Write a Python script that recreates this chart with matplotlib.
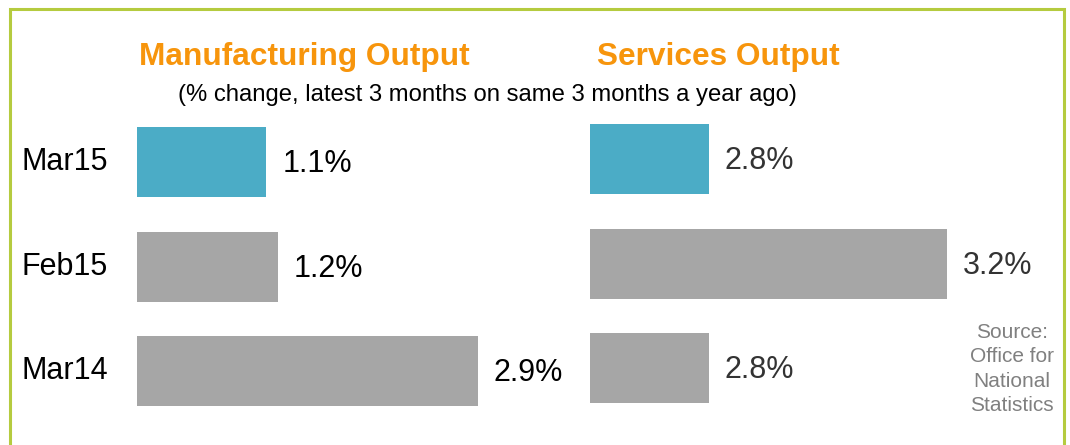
import matplotlib.pyplot as plt
from matplotlib.patches import Rectangle
from matplotlib.transforms import blended_transform_factory

# data
months = ["Mar15", "Feb15", "Mar14"]
manufacturing = [1.1, 1.2, 2.9]
services = [2.8, 3.2, 2.8]
bar_colors = ["#4bacc6", "#a6a6a6", "#a6a6a6"]

plt.rcParams['font.family'] = ['Liberation Sans', 'DejaVu Sans']

W, H = 1070, 445
fig = plt.figure(figsize=(W / 100, H / 100), dpi=100)


def px_axes(left, top, width, height):
    # axes placed with pixel coords measured from the top-left corner
    return fig.add_axes([left / W, 1 - (top + height) / H, width / W, height / H])


ax1 = px_axes(137, 109.6, 423, 314)
ax2 = px_axes(590, 106.6, 416.5, 314)

for ax, vals, lo, hi, col in [(ax1, manufacturing, 0, 3.6, 'black'),
                              (ax2, services, 2.6, 3.3, '#333333')]:
    ax.barh(range(len(vals)), vals, height=0.67, color=bar_colors)
    ax.set_xlim(lo, hi)
    ax.set_ylim(2.5, -0.5)
    ax.axis('off')
    for i, v in enumerate(vals):
        ax.annotate(f"{v}%", (v, i), xytext=(11.5, -1.5), textcoords='offset points',
                    va='center', ha='left', fontsize=22, color=col,
                    annotation_clip=False)

tr = blended_transform_factory(fig.transFigure, ax1.transData)
for i, m in enumerate(months):
    ax1.text(22 / W, i, m, transform=tr, va='center', ha='left', fontsize=22)

orange = '#f7950c'
fig.text(304 / W, 1 - 64.5 / H, "Manufacturing Output", ha='center', va='baseline',
         fontsize=22.8, weight='bold', color=orange)
fig.text(718 / W, 1 - 65 / H, "Services Output", ha='center', va='baseline',
         fontsize=22.8, weight='bold', color=orange)
fig.text(487.5 / W, 1 - 101 / H,
         "(% change, latest 3 months on same 3 months a year ago)",
         ha='center', va='baseline', fontsize=17.2)

fig.text(1012 / W, 1 - 369 / H, "Source:\nOffice for\nNational\nStatistics",
         ha='center', va='center', fontsize=15, color='#808080', linespacing=1.35)

# green frame, open at the bottom edge
fig.patches.append(Rectangle((9.5 / W, -0.1), (1064 - 9.5) / W, 1.1 - 9.5 / H,
                             transform=fig.transFigure, fill=False,
                             edgecolor='#b5cb3f', linewidth=2.2))

fig.savefig('out.png', dpi=100)
